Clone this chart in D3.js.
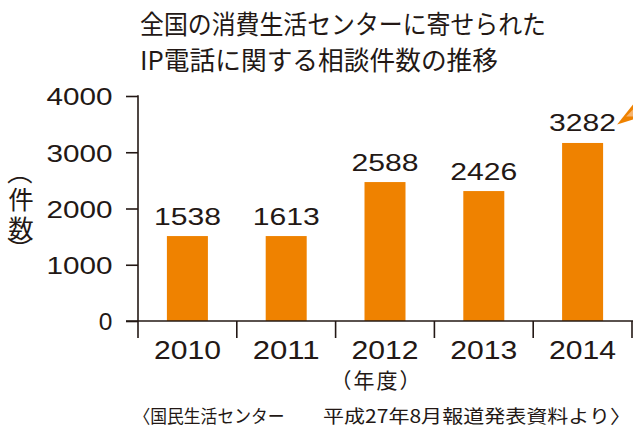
<!DOCTYPE html>
<html>
<head>
<meta charset="utf-8">
<script src="https://cdn.jsdelivr.net/npm/d3@7/dist/d3.min.js"></script>
<style>
  html, body { margin: 0; padding: 0; background: #fff; }
  svg { display: block; }
</style>
</head>
<body>
<script>
// ---- data ----
const years = ["2010", "2011", "2012", "2013", "2014"];
// bar heights as drawn in the picture (estimated against the axis)
const drawnValues = [1510, 1510, 2470, 2310, 3165];
// counts printed above the bars
const reportedCounts = ["1538", "1613", "2588", "2426", "3282"];
const yTicks = [0, 1000, 2000, 3000, 4000];
const titleLines = ["全国の消費生活センターに寄せられた", "IP電話に関する相談件数の推移"];
const yLabelChars = ["（", "件", "数", "）"];
const xTitle = "（年度）";
const sourceParts = ["〈国民生活センター", "平成27年8月報道発表資料より〉"];

const W = 633, H = 427;
const ink = "#231815", orange = "#EF8200";
const numFont = "'Liberation Sans', Arial, Helvetica, sans-serif";
const cjkFont = "'Noto Sans CJK JP', 'Noto Sans CJK SC', sans-serif";

const svg = d3.select("body").append("svg").attr("width", W).attr("height", H);

const y = d3.scaleLinear().domain([0, 4000]).range([321, 96]);
const xAxisBand = d3.scaleBand().domain(years).range([138, 632]);
const xBar = d3.scaleBand().domain(years).range([138, 632]).paddingInner(0.585).paddingOuter(0.2925);

// title
svg.selectAll("text.title").data(titleLines).join("text")
  .attr("class", "title")
  .attr("x", 140)
  .attr("y", (d, i) => 34 + i * 36)
  .attr("textLength", (d, i) => i === 0 ? 406 : 358)
  .attr("lengthAdjust", "spacingAndGlyphs")
  .style("font-family", cjkFont)
  .style("font-size", "26px")
  .style("fill", ink)
  .text(d => d);

// bars
svg.selectAll("rect.bar").data(years).join("rect")
  .attr("class", "bar")
  .attr("x", d => xBar(d))
  .attr("width", xBar.bandwidth())
  .attr("y", (d, i) => y(drawnValues[i]))
  .attr("height", (d, i) => y(0) - y(drawnValues[i]))
  .attr("fill", orange);

// value labels
svg.selectAll("text.val").data(years).join("text")
  .attr("class", "val")
  .attr("x", d => xBar(d) + xBar.bandwidth() / 2)
  .attr("y", (d, i) => y(drawnValues[i]) - 11.5)
  .attr("text-anchor", "middle")
  .attr("textLength", 67)
  .attr("lengthAdjust", "spacingAndGlyphs")
  .style("font-family", numFont)
  .style("font-size", "24.5px")
  .style("fill", ink)
  .text((d, i) => reportedCounts[i]);

// y axis
const yAxis = d3.axisLeft(y).tickValues(yTicks).tickFormat(d3.format("d"))
  .tickSize(12).tickPadding(15).tickSizeOuter(0);
const gy = svg.append("g").attr("transform", "translate(138,0)").call(yAxis);
gy.select(".domain").remove();
gy.selectAll(".tick line").attr("stroke", ink).attr("stroke-width", 1.6);
gy.selectAll(".tick text")
  .attr("dy", "0.36em")
  .attr("x", -25.5)
  .attr("textLength", d => d === 0 ? null : 66)
  .attr("lengthAdjust", "spacingAndGlyphs")
  .style("font-family", numFont)
  .style("font-size", "24.5px")
  .style("fill", ink);
svg.append("line")
  .attr("x1", 138).attr("x2", 138)
  .attr("y1", y(4000) - 0.8).attr("y2", 338)
  .attr("stroke", ink).attr("stroke-width", 1.6);

// x axis
svg.append("line")
  .attr("x1", 126).attr("x2", W)
  .attr("y1", y(0)).attr("y2", y(0))
  .attr("stroke", ink).attr("stroke-width", 1.6);
svg.selectAll("line.xtick").data(years).join("line")
  .attr("class", "xtick")
  .attr("x1", d => xAxisBand(d) + xAxisBand.step())
  .attr("x2", d => xAxisBand(d) + xAxisBand.step())
  .attr("y1", y(0)).attr("y2", 338)
  .attr("stroke", ink).attr("stroke-width", 1.6);
svg.selectAll("text.xlab").data(years).join("text")
  .attr("class", "xlab")
  .attr("x", d => xAxisBand(d) + xAxisBand.bandwidth() / 2)
  .attr("y", 359)
  .attr("text-anchor", "middle")
  .attr("textLength", 67)
  .attr("lengthAdjust", "spacingAndGlyphs")
  .style("font-family", numFont)
  .style("font-size", "25.5px")
  .style("fill", ink)
  .text(d => d);

// x title
svg.append("text")
  .attr("x", 375.5).attr("y", 388)
  .attr("text-anchor", "middle")
  .attr("textLength", 90)
  .attr("lengthAdjust", "spacing")
  .style("font-family", cjkFont)
  .style("font-size", "21px")
  .style("fill", ink)
  .text(xTitle);

// y title (vertical, parentheses turned)
const yLabY = [172, 197.5, 226.5, 249];
svg.selectAll("text.ylab").data(yLabelChars).join("text")
  .attr("class", "ylab")
  .attr("x", 21)
  .attr("y", (d, i) => yLabY[i])
  .attr("text-anchor", "middle")
  .attr("dominant-baseline", "central")
  .attr("transform", (d, i) => (i === 0 || i === 3) ? `rotate(90,21,${yLabY[i]})` : null)
  .style("font-family", cjkFont)
  .style("font-size", "25.5px")
  .style("fill", ink)
  .text(d => d);

// source
svg.append("text")
  .attr("x", 133.5).attr("y", 422.5)
  .attr("textLength", 151)
  .attr("lengthAdjust", "spacingAndGlyphs")
  .style("font-family", cjkFont)
  .style("font-size", "18.5px")
  .style("fill", ink)
  .text(sourceParts[0]);
svg.append("text")
  .attr("x", 323).attr("y", 422.5)
  .attr("textLength", 308)
  .attr("lengthAdjust", "spacingAndGlyphs")
  .style("font-family", cjkFont)
  .style("font-size", "18.5px")
  .style("fill", ink)
  .text(sourceParts[1]);

// decorative pointer near the last label
const lastX = xBar(years[4]) + xBar.bandwidth() / 2 + 34.5;
const lastY = y(drawnValues[4]) - 18.5;
svg.append("polygon")
  .attr("points", `${lastX},${lastY} ${W},${lastY - 20} ${W},${lastY - 5}`)
  .attr("fill", orange);
svg.append("polygon")
  .attr("points", `${lastX + 9},${lastY - 8} ${W},${lastY - 15} ${W},${lastY - 8}`)
  .attr("fill", "#F6B46E");
</script>
</body>
</html>
